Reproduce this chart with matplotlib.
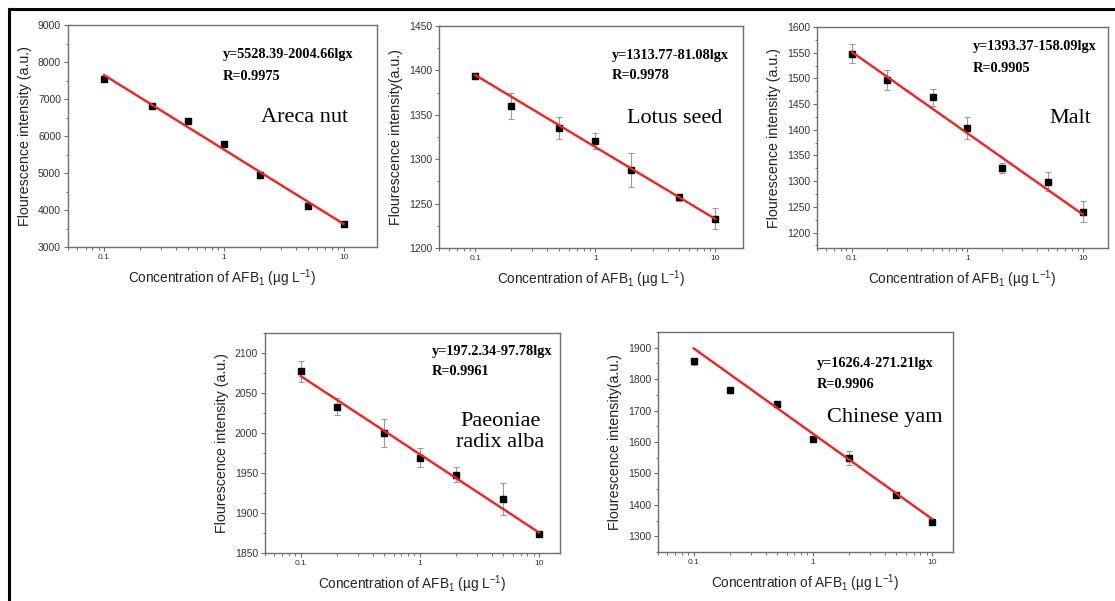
import matplotlib
matplotlib.use("Agg")
import matplotlib.pyplot as plt
from matplotlib.lines import Line2D
from matplotlib.ticker import LogLocator, FixedLocator, FuncFormatter, AutoMinorLocator
import numpy as np

plt.rcParams["font.family"] = ["Liberation Sans", "DejaVu Sans"]
plt.rcParams["mathtext.fontset"] = "custom"
plt.rcParams["mathtext.rm"] = "Liberation Sans"
plt.rcParams["mathtext.it"] = "Liberation Sans:italic"

W, H = 1115, 601

# concentrations (ug/L)
x_areca = [0.1, 0.25, 0.5, 1, 2, 5, 10]
x_other = [0.1, 0.2, 0.5, 1, 2, 5, 10]

# fluorescence intensity
y_areca = [7530, 6800, 6400, 5780, 4950, 4120, 3620]
e_areca = [50, 40, 50, 80, 60, 50, 30]
y_lotus = [1394, 1360, 1335, 1321, 1288, 1257, 1233]
e_lotus = [3, 15, 12, 9, 19, 4, 12]
y_malt = [1548, 1497, 1463, 1403, 1326, 1299, 1241]
e_malt = [19, 20, 16, 21, 10, 18, 20]
y_paeon = [2077, 2033, 2000, 1969, 1948, 1917, 1874]
e_paeon = [13, 11, 17, 12, 9, 20, 2]
y_yam = [1857, 1765, 1720, 1609, 1548, 1431, 1347]
e_yam = [11, 9, 5, 7, 22, 4, 4]

# drawn fit lines: intercept at x=1, slope per decade
fit_a = [5635, 1313.77, 1393.37, 1973.3, 1626.4]
fit_b = [-2012, -81.08, -158.09, -97.78, -271.21]

equations = ["y=5528.39-2004.66lgx", "y=1313.77-81.08lgx", "y=1393.37-158.09lgx",
             "y=197.2.34-97.78lgx", "y=1626.4-271.21lgx"]
r_values = ["R=0.9975", "R=0.9978", "R=0.9905", "R=0.9961", "R=0.9906"]
names = ["Areca nut", "Lotus seed", "Malt", "Paeoniae\nradix alba", "Chinese yam"]
ylabels = ["Flourescence intensity (a.u.)", "Flourescence intensity(a.u.)",
           "Flourescence intensity (a.u.)", "Flourescence intensity (a.u.)",
           "Flourescence intensity(a.u.)"]
xlabel = "Concentration of AFB$_1$ (µg L$^{-1}$)"

xs = [x_areca, x_other, x_other, x_other, x_other]
ys = [y_areca, y_lotus, y_malt, y_paeon, y_yam]
es = [e_areca, e_lotus, e_malt, e_paeon, e_yam]

# layout (pixels: left, right, top, bottom)
boxes = [(68, 377, 25, 247), (439, 743, 26, 248), (817, 1108, 27, 248),
         (265, 560, 333, 553), (658, 953, 332, 552)]
ylims = [(3000, 9000), (1200, 1450), (1170, 1600), (1850, 2125), (1250, 1950)]
ysteps = [1000, 50, 50, 50, 100]
xmax = [19, 17, 16.5, 15, 15]
eq_pos = [(0.50, 0.865, 0.77), (0.568, 0.869, 0.775), (0.536, 0.91, 0.814),
          (0.565, 0.914, 0.823), (0.538, 0.855, 0.76)]
name_pos = [(0.767, 0.585), (0.776, 0.585), (0.87, 0.588), (0.797, 0.55), (0.77, 0.61)]

fig = plt.figure(figsize=(W / 100, H / 100), dpi=100)
fig.patch.set_facecolor("white")

gray = "#6e6e6e"
for i in range(5):
    l, r, t, b = boxes[i]
    ax = fig.add_axes([l / W, 1 - b / H, (r - l) / W, (b - t) / H])
    ax.set_xscale("log")
    ax.set_xlim(0.05, xmax[i])
    ax.set_ylim(*ylims[i])

    ax.errorbar(xs[i], ys[i], yerr=es[i], fmt="s", color="black", ms=4.5,
                ecolor="#999999", elinewidth=0.8, capsize=2, capthick=0.8, zorder=3)
    xl = np.array([0.1, 10])
    ax.plot(xl, fit_a[i] + fit_b[i] * np.log10(xl), color="#f52020", lw=1.7, zorder=4)

    ax.xaxis.set_major_locator(FixedLocator([0.1, 1, 10]))
    ax.xaxis.set_major_formatter(FuncFormatter(lambda v, p: "%g" % v))
    ax.xaxis.set_minor_locator(LogLocator(base=10, subs=np.arange(2, 10)))
    ax.xaxis.set_minor_formatter(FuncFormatter(lambda v, p: ""))
    lo, hi = ylims[i]
    start = np.ceil(lo / ysteps[i]) * ysteps[i]
    ax.yaxis.set_major_locator(FixedLocator(np.arange(start, hi + 1, ysteps[i])))
    ax.yaxis.set_minor_locator(AutoMinorLocator(2))

    for s in ax.spines.values():
        s.set_color(gray)
        s.set_linewidth(1.0)
    ax.tick_params(which="major", direction="out", length=3, width=0.8, color=gray,
                   labelsize=7.5, labelcolor="#333333", pad=2)
    ax.tick_params(which="minor", direction="out", length=1.8, width=0.7, color=gray)
    ax.tick_params(axis="x", labelsize=6)

    ax.set_xlabel(xlabel, fontsize=9.8, color="#222222", labelpad=5)
    ax.set_ylabel(ylabels[i], fontsize=10.3, color="#222222", labelpad=4)

    ex, ey, ry = eq_pos[i]
    ax.text(ex, ey, equations[i], transform=ax.transAxes, family="Liberation Serif",
            fontweight="bold", fontsize=10.3, va="center", ha="left")
    ax.text(ex, ry, r_values[i], transform=ax.transAxes, family="Liberation Serif",
            fontweight="bold", fontsize=10.3, va="center", ha="left")
    nx, ny = name_pos[i]
    ax.text(nx, ny, names[i], transform=ax.transAxes, family="Liberation Serif",
            fontsize=16, va="center", ha="center", linespacing=1.2)

# black frame on the left and top
fig.add_artist(Line2D([9 / W, 9 / W], [0, 1 - 9 / H], color="black", lw=2.2))
fig.add_artist(Line2D([9 / W, 1], [1 - 9 / H, 1 - 9 / H], color="black", lw=2.2))

fig.savefig("out.png", dpi=100)
